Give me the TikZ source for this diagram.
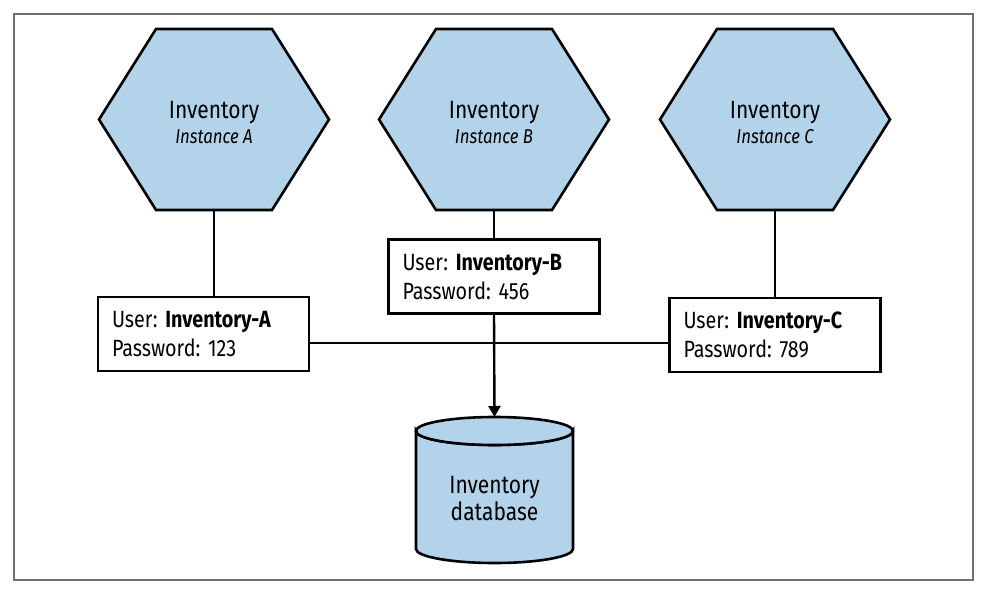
\documentclass[tikz,border=0pt]{standalone}
\usepackage{fontspec}
\setmainfont{Fira Sans}[FakeStretch=0.84]
\usetikzlibrary{arrows.meta}
\definecolor{hexblue}{HTML}{B2D3EA}
\definecolor{framegray}{HTML}{707070}
\frenchspacing
\begin{document}
\begin{tikzpicture}[x=1pt,y=-1pt,
  hexshape/.style={draw=black,fill=hexblue,line width=2.6pt,line join=miter},
  hexlabel/.style={inner sep=0pt,minimum height=175pt,minimum width=230pt,align=center,font=\fontsize{25}{27}\selectfont},
  credbox/.style={draw=black,line width=2.4pt,fill=white,inner xsep=14pt,inner ysep=0pt,minimum height=74pt,text width=183pt,align=left,font=\fontsize{23.5}{29}\selectfont},
  conn/.style={line width=2.4pt},
  cyl/.style={draw=black,fill=hexblue,line width=2.6pt}
]
\useasboundingbox (0,0) rectangle (988,591);
\draw[framegray,line width=1.5pt] (14,14) rectangle (973,580);

% hexagons
\foreach \n/\x in {A/214,B/494,C/775}{
  \filldraw[hexshape] (\x,119.5) ++(-115,0) -- ++(57,-90.5) -- ++(116,0) -- ++(57,90.5) -- ++(-57,90.5) -- ++(-116,0) -- cycle;
  \node[hexlabel] (hex\n) at (\x,122.5) {Inventory\\[-2pt]{\fontsize{20}{24}\selectfont\itshape Instance \n}};
}

% credential boxes
\node[credbox] (boxA) at (203.5,334) {User: \textbf{Inventory-A}\\Password: 123};
\node[credbox] (boxB) at (494,276.5) {User: \textbf{Inventory-B}\\Password: 456};
\node[credbox] (boxC) at (775,335) {User: \textbf{Inventory-C}\\Password: 789};

% database cylinder
\filldraw[cyl] (416,431) -- (416,549) arc[start angle=180,end angle=0,x radius=78.5,y radius=14] -- (573,431) arc[start angle=0,end angle=180,x radius=78.5,y radius=14] -- cycle;
\draw[cyl] (494.5,431) ellipse [x radius=78.5,y radius=14];
\coordinate (dbtop) at (494.5,417);
\node[align=center,inner sep=0pt,font=\fontsize{25}{27}\selectfont] (db) at (494.5,499) {Inventory\\database};

% connectors
\coordinate (hl) at (494,343);
\draw[conn] (hexA.south) -- (hexA.south |- boxA.north);
\draw[conn] (hexB.south) -- (boxB.north);
\draw[conn] (hexC.south) -- (boxC.north);
\draw[conn] (boxA.east |- hl) -- (boxC.west |- hl);
\draw[conn,-{Triangle[length=11pt,width=12pt]}] (boxB.south) -- (dbtop);
\end{tikzpicture}
\end{document}
